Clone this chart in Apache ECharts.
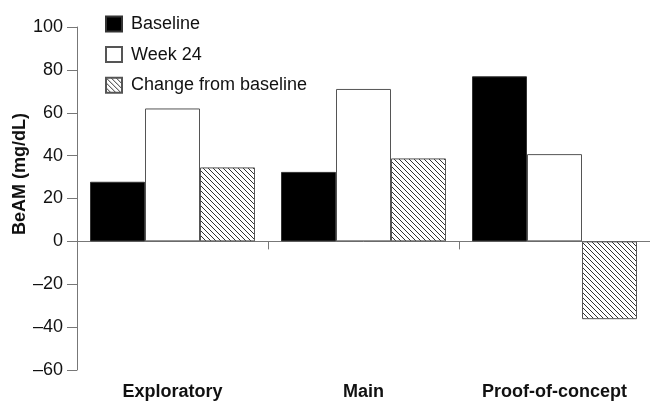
<!DOCTYPE html>
<html lang="en">
<head>
    <meta charset="utf-8">
    <title>BeAM</title>
    <script type="text/javascript" src="https://cdn.jsdelivr.net/npm/echarts@6/dist/echarts.min.js"></script>
    <style>
        body { margin: 0; background: #fff; }
    </style>
</head>
<body>
<div id="main" style="width: 650px;height:403px;"></div>
<script type="text/javascript">
    // data
    var categories = ['Exploratory', 'Main', 'Proof-of-concept'];
    var baseline = [27.8, 32.4, 77.0];
    var week24 = [62.0, 71.1, 40.7];
    var change = [34.5, 38.7, -36.3];
    var seriesNames = ['Baseline', 'Week 24', 'Change from baseline'];

    var font = "'Liberation Sans', Arial, Helvetica, sans-serif";

    // hatch pattern  (\\\)
    function makeHatch() {
        var p = 5;
        var c = document.createElement('canvas');
        c.width = p;
        c.height = p;
        var ctx = c.getContext('2d');
        ctx.fillStyle = '#fff';
        ctx.fillRect(0, 0, p, p);
        ctx.strokeStyle = '#333';
        ctx.lineWidth = 1;
        ctx.beginPath();
        ctx.moveTo(0, 0); ctx.lineTo(p, p);
        ctx.moveTo(-1, p - 1); ctx.lineTo(1, p + 1);
        ctx.moveTo(p - 1, -1); ctx.lineTo(p + 1, 1);
        ctx.stroke();
        return c;
    }
    var hatch = { image: makeHatch(), repeat: 'repeat' };

    var myChart = echarts.init(document.getElementById('main'));

    var border = '#555';

    var option = {
        animation: false,
        backgroundColor: '#fff',
        textStyle: { fontFamily: font },
        grid: { left: 77, top: 27, width: 575, bottom: 33 },
        legend: {
            orient: 'vertical',
            left: 105,
            top: 15,
            padding: 0,
            icon: 'rect',
            itemWidth: 16,
            itemHeight: 15,
            itemGap: 12.6,
            data: seriesNames,
            textStyle: { fontSize: 18, color: '#111', lineHeight: 18, padding: [0, 0, 0, 4], fontFamily: font }
        },
        graphic: [{
            type: 'text',
            x: 20,
            y: 174,
            rotation: Math.PI / 2,
            style: {
                text: 'BeAM (mg/dL)',
                font: 'bold 18px ' + font,
                fill: '#111',
                align: 'center',
                verticalAlign: 'middle'
            }
        }],
        xAxis: [{
            type: 'category',
            data: categories,
            position: 'bottom',
            axisLine: { onZero: true, lineStyle: { color: '#777', width: 1 } },
            axisTick: { show: true, length: 8, lineStyle: { color: '#777' } },
            axisLabel: { show: false }
        }, {
            type: 'category',
            data: categories,
            position: 'bottom',
            axisLine: { show: false },
            axisTick: { show: false },
            axisLabel: { fontSize: 18, fontWeight: 'bold', color: '#111', margin: 13, fontFamily: font }
        }],
        yAxis: {
            type: 'value',
            min: -60,
            max: 100,
            interval: 20,
            splitLine: { show: false },
            axisLine: { show: true, lineStyle: { color: '#777', width: 1 } },
            axisTick: { show: true, inside: false, length: 10, lineStyle: { color: '#777' } },
            axisLabel: {
                fontSize: 18,
                color: '#111',
                margin: 14,
                fontFamily: font,
                formatter: function (v) { return String(v).replace('-', '\u2013'); }
            }
        },
        series: [{
            name: seriesNames[0],
            type: 'bar',
            barWidth: 55,
            barGap: 0,
            itemStyle: { color: '#000', borderColor: '#333', borderWidth: 1 },
            data: baseline
        }, {
            name: seriesNames[1],
            type: 'bar',
            barWidth: 55,
            barGap: 0,
            itemStyle: { color: '#fff', borderColor: border, borderWidth: 1 },
            data: week24
        }, {
            name: seriesNames[2],
            type: 'bar',
            barWidth: 55,
            barGap: 0,
            itemStyle: { color: hatch, borderColor: border, borderWidth: 1 },
            data: change
        }]
    };

    myChart.setOption(option);
</script>
</body>
</html>
